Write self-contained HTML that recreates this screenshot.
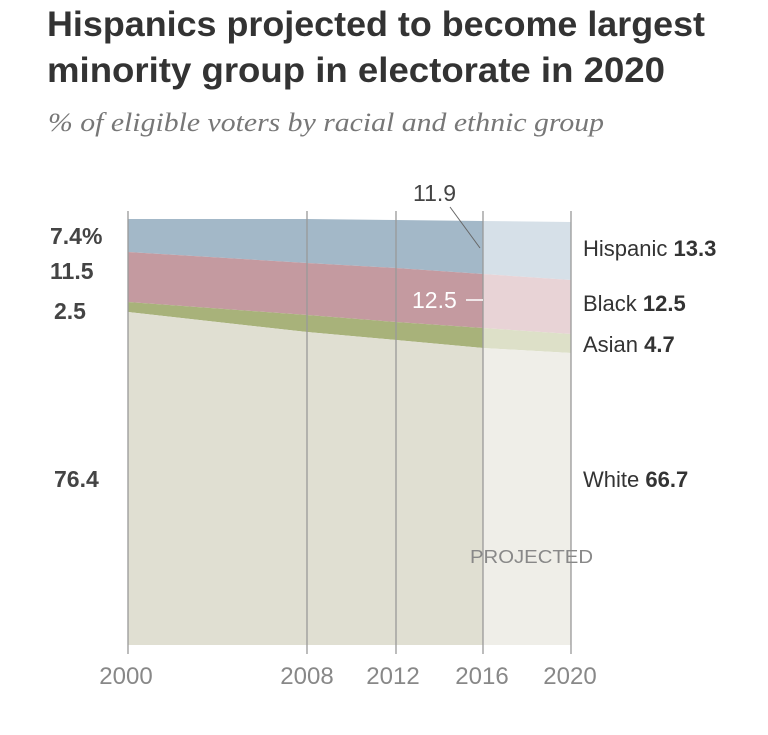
<!DOCTYPE html>
<html><head><meta charset="utf-8"><style>
body{margin:0;background:#fff;width:768px;height:730px;overflow:hidden;font-family:"Liberation Sans",sans-serif}
</style></head><body>
<svg width="768" height="730" xmlns="http://www.w3.org/2000/svg" font-family="Liberation Sans, sans-serif">
<text x="47" y="36" font-size="35" font-weight="bold" fill="#333" textLength="658" lengthAdjust="spacingAndGlyphs">Hispanics projected to become largest</text>
<text x="47" y="82" font-size="35" font-weight="bold" fill="#333" textLength="618" lengthAdjust="spacingAndGlyphs">minority group in electorate in 2020</text>
<text x="48" y="131" font-size="26" font-style="italic" fill="#777" font-family="Liberation Serif, serif" textLength="556" lengthAdjust="spacingAndGlyphs">% of eligible voters by racial and ethnic group</text>
<path d="M128,219 L307,219 L396,220 L483,221 L483,274 L396,268 L307,263 L128,252Z" fill="#a3b8c8"/>
<path d="M128,252 L307,263 L396,268 L483,274 L483,328 L396,322 L307,315 L128,302Z" fill="#c49aa0"/>
<path d="M128,302 L307,315 L396,322 L483,328 L483,348 L396,340 L307,332 L128,312Z" fill="#a8b27a"/>
<path d="M128,312 L307,332 L396,340 L483,348 L483,645 L128,645Z" fill="#e0dfd2"/>
<path d="M483,221 L571,222 L571,280 L483,274Z" fill="#d6e0e8"/>
<path d="M483,274 L571,280 L571,334 L483,328Z" fill="#e8d3d6"/>
<path d="M483,328 L571,334 L571,353 L483,348Z" fill="#dde0c8"/>
<path d="M483,348 L571,353 L571,645 L483,645Z" fill="#efeee8"/>
<g stroke="#999" stroke-width="1.3">
<line x1="128" y1="211" x2="128" y2="654"/>
<line x1="307" y1="211" x2="307" y2="654"/>
<line x1="396" y1="211" x2="396" y2="654"/>
<line x1="483" y1="211" x2="483" y2="654"/>
<line x1="571" y1="211" x2="571" y2="654"/>
</g>
<line x1="450" y1="207" x2="480" y2="248" stroke="#666" stroke-width="1"/>
<line x1="466" y1="300" x2="483" y2="300" stroke="#fff" stroke-width="1.5"/>
<text x="413" y="201" font-size="23" fill="#444">11.9</text>
<text x="412" y="308" font-size="23" fill="#fff">12.5</text>
<g font-size="23" font-weight="bold" fill="#444">
<text x="50" y="244">7.4%</text>
<text x="50" y="279">11.5</text>
<text x="54" y="319">2.5</text>
<text x="54" y="487">76.4</text>
</g>
<g font-size="22" fill="#333">
<text x="583" y="256">Hispanic <tspan font-weight="bold">13.3</tspan></text>
<text x="583" y="311">Black <tspan font-weight="bold">12.5</tspan></text>
<text x="583" y="352">Asian <tspan font-weight="bold">4.7</tspan></text>
<text x="583" y="487">White <tspan font-weight="bold">66.7</tspan></text>
</g>
<text x="470" y="563" font-size="18" fill="#888" textLength="123" lengthAdjust="spacingAndGlyphs">PROJECTED</text>
<g font-size="24" fill="#888" text-anchor="middle">
<text x="126" y="684">2000</text>
<text x="307" y="684">2008</text>
<text x="393" y="684">2012</text>
<text x="482" y="684">2016</text>
<text x="570" y="684">2020</text>
</g>
</svg>
</body></html>
